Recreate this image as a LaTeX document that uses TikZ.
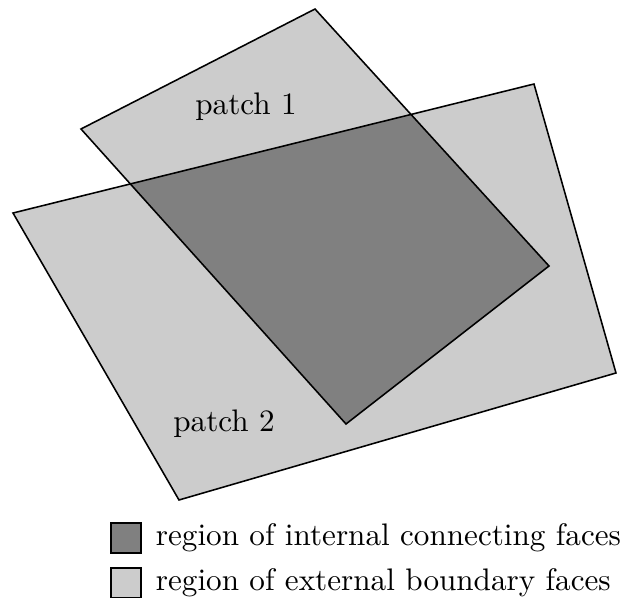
\documentclass[tikz,border=0pt]{standalone}
\usepackage{tikz}
\usetikzlibrary{positioning}
\definecolor{FaceExt}{HTML}{CCCCCC}
\definecolor{FaceInt}{HTML}{808080}
\definecolor{InkDark}{HTML}{000000}
\tikzset{
  patchfill/.style={fill=FaceExt},
  overlapfill/.style={fill=FaceInt},
  patchedge/.style={line width=0.5pt, draw=InkDark, line join=miter},
  plabel/.style={font=\normalsize, inner sep=0pt, anchor=base},
  keybox/.style={draw=InkDark, line width=0.6pt, minimum size=9.6pt, inner sep=0pt},
  keytext/.style={font=\normalsize, inner sep=0pt},
}
\begin{document}
\begin{tikzpicture}[x=0.321pt, y=-0.321pt]
\useasboundingbox (0,0) rectangle (623,598);
% corners of the two patches
\coordinate (p1n) at (315,9);
\coordinate (p1e) at (549,266);
\coordinate (p1s) at (346,424);
\coordinate (p1w) at (81,129);
\coordinate (p2w) at (13,213);
\coordinate (p2n) at (534,84);
\coordinate (p2e) at (616,373);
\coordinate (p2s) at (179,500);
% where the edges cross
\coordinate (xl) at (130.3,183.9);
\coordinate (xr) at (411.0,114.4);
\fill[patchfill] (p1n) -- (p1e) -- (p1s) -- (p1w) -- cycle;
\fill[patchfill] (p2w) -- (p2n) -- (p2e) -- (p2s) -- cycle;
\fill[overlapfill] (xl) -- (xr) -- (p1e) -- (p1s) -- cycle;
\draw[patchedge] (p1n) -- (p1e) -- (p1s) -- (p1w) -- cycle;
\draw[patchedge] (p2w) -- (p2n) -- (p2e) -- (p2s) -- cycle;
\node[plabel] (lab1) at (246,115) {patch 1};
\node[plabel] (lab2) at (224,432) {patch 2};
% legend
\node[keybox, fill=FaceInt] (keyint) at (126,538) {};
\node[keytext, right=4.3pt of keyint] (txtint) {region of internal connecting faces};
\node[keybox, fill=FaceExt] (keyext) at (126,583) {};
\node[keytext, right=4.3pt of keyext] (txtext) {region of external boundary faces};
\end{tikzpicture}
\end{document}
